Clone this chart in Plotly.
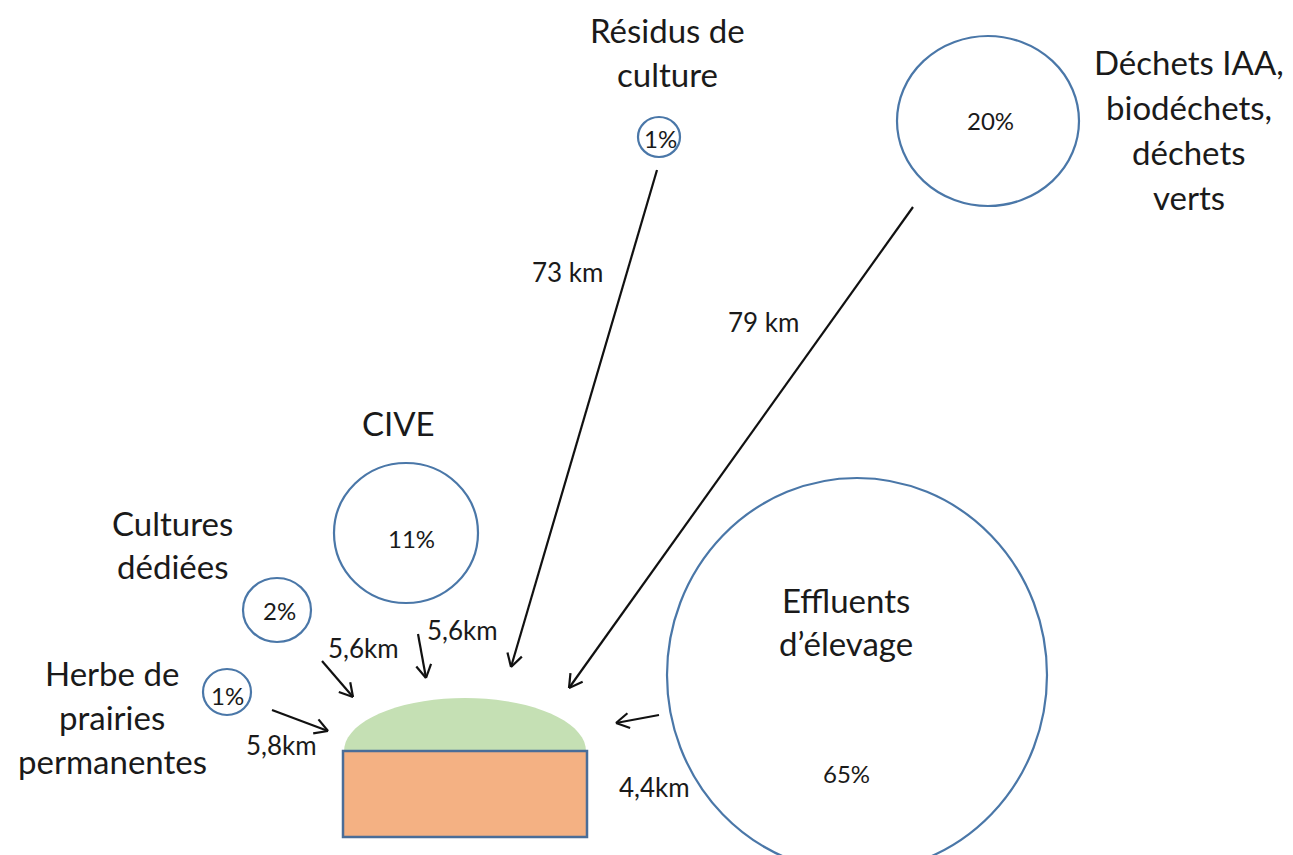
import math
import plotly.graph_objects as go

# ---- data ----
sources = ["Résidus de culture", "Déchets IAA, biodéchets, déchets verts", "CIVE",
           "Cultures dédiées", "Herbe de prairies permanentes", "Effluents d’élevage"]
shares = [1, 20, 11, 2, 1, 65]
distances = ["73 km", "79 km", "5,6km", "5,6km", "5,8km", "4,4km"]

# ---- layout geometry (pixels) ----
circle_center = [(659, 137), (988, 121), (406, 533), (277, 610), (227, 692), (857, 675)]
circle_radius = [(21, 20), (91, 85), (72, 70), (34, 32), (24, 23), (190, 197)]
pct_pos = [(660, 138), (990, 120), (411, 538), (279, 610), (227, 695), (846, 773)]
name_lines = [["Résidus de", "culture"], ["Déchets IAA,", "biodéchets,", "déchets", "verts"],
              ["CIVE"], ["Cultures", "dédiées"], ["Herbe de", "prairies", "permanentes"],
              ["Effluents", "d’élevage"]]
name_pos = [(667, 30), (1189, 62), (398, 423), (172, 523), (112, 673), (846, 600)]
name_step = [44, 45, 0, 43, 44, 43]
arrow_from = [(657, 170), (913, 207), (418, 634), (322, 661), (272, 710), (659, 715)]
arrow_to = [(511, 667), (569, 688), (426, 678), (353, 697), (328, 731), (616, 723)]
dist_pos = [(567, 272), (763, 322), (462, 630), (363, 648), (281, 745), (654, 787)]

W, H = 1293, 855
OFF = 8  # page body margin
FONT = "Lato, Carlito, 'DejaVu Sans', sans-serif"
BLUE = "#4a77a8"
TXT = "#1a1a1a"

fig = go.Figure()
shapes = []
annotations = []

# digester: dome + tank
cx, base, rx, ry = 465, 751, 121, 53
pts = []
for i in range(0, 181, 5):
    t = math.radians(180 - i)
    pts.append((cx + rx * math.cos(t), base - ry * math.sin(t)))
path = "M " + " L ".join(f"{x:.1f},{y:.1f}" for x, y in pts) + " Z"
shapes.append(dict(type="path", path=path, xref="x", yref="y",
                   fillcolor="#c5e0b4", line=dict(width=0), layer="below"))
shapes.append(dict(type="rect", xref="x", yref="y", x0=343, x1=587, y0=751, y1=837,
                   fillcolor="#f4b183", line=dict(color="#4a6d98", width=2.5)))

for (x, y), (rxx, ryy) in zip(circle_center, circle_radius):
    shapes.append(dict(type="circle", xref="x", yref="y", x0=x - rxx, x1=x + rxx,
                       y0=y - ryy, y1=y + ryy, line=dict(color=BLUE, width=2.2),
                       fillcolor="rgba(0,0,0,0)"))

for s, (x, y) in zip(shares, pct_pos):
    annotations.append(dict(x=x, y=y, text=f"{s}%", showarrow=False, xref="x", yref="y",
                            font=dict(size=24, color=TXT, family=FONT)))

for lines, (x, y), st in zip(name_lines, name_pos, name_step):
    for k, ln in enumerate(lines):
        annotations.append(dict(x=x, y=y + k * st, text=ln, showarrow=False, xref="x", yref="y",
                                font=dict(size=33, color=TXT, family=FONT)))

for d, (x, y) in zip(distances, dist_pos):
    annotations.append(dict(x=x, y=y, text=d, showarrow=False, xref="x", yref="y",
                            font=dict(size=26, color=TXT, family=FONT)))

# arrows as line + open chevron heads
ax_, ay_ = [], []
for (x0, y0), (x1, y1) in zip(arrow_from, arrow_to):
    ang = math.atan2(y1 - y0, x1 - x0)
    L = 15
    ax_ += [x0, x1, None]
    ay_ += [y0, y1, None]
    for da in (math.radians(30), -math.radians(30)):
        a = ang + math.pi + da
        ax_ += [x1 + L * math.cos(a), x1, None]
        ay_ += [y1 + L * math.sin(a), y1, None]
fig.add_trace(go.Scatter(x=ax_, y=ay_, mode="lines", line=dict(color="#111111", width=2.2),
                         hoverinfo="skip", showlegend=False))

fig.update_layout(
    width=W, height=H, margin=dict(l=0, r=0, t=0, b=0),
    paper_bgcolor="white", plot_bgcolor="white",
    xaxis=dict(range=[OFF, W + OFF], visible=False, fixedrange=True),
    yaxis=dict(range=[H + OFF, OFF], visible=False, fixedrange=True),
    shapes=shapes, annotations=annotations, showlegend=False,
)
fig.write_html("out.html")
